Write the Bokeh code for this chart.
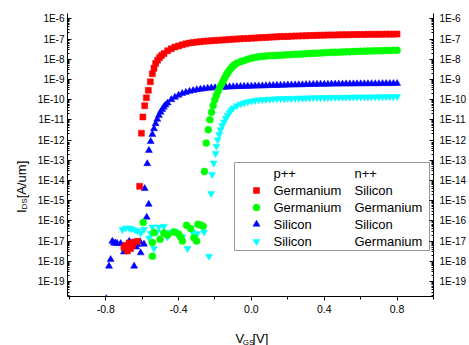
import math
from bokeh.plotting import figure
from bokeh.layouts import row, column
from bokeh.models import (Range1d, LogAxis, FixedTicker, CustomJSTickFormatter,
                          PrintfTickFormatter)
from bokeh.core.properties import value
from bokeh.embed import file_html
from bokeh.resources import INLINE

# ---------------- data (V_GS in volts, log10 of I_DS in A/um) ----------------
SWEEP_STEP = 0.02

# p++ Germanium / n++ Silicon  (red squares)
red_noise_v = [-0.700, -0.690, -0.681, -0.671, -0.663, -0.653, -0.645, -0.626]
red_noise_log = [-17.32, -17.21, -17.49, -17.09, -17.37, -17.21, -17.05, -17.01]
red_steep_v = [-0.614, -0.604, -0.596, -0.586, -0.577, -0.566, -0.555, -0.544,
               -0.535, -0.526, -0.515, -0.504, -0.493]
red_steep_log = [-14.29, -11.66, -10.86, -10.30, -9.91, -9.54, -9.12, -8.72,
                 -8.45, -8.21, -8.05, -7.92, -7.81]
red_flat_start = -0.48
red_flat_log = [-7.72, -7.58, -7.48, -7.40, -7.34, -7.29, -7.24, -7.20, -7.17, -7.15,
                -7.13, -7.11, -7.10, -7.09, -7.07, -7.06, -7.05, -7.04, -7.02, -7.01,
                -7.00, -6.99, -6.98, -6.97,
                -6.96, -6.95, -6.94, -6.93, -6.92, -6.91, -6.90, -6.89, -6.88, -6.875,
                -6.87, -6.86, -6.855, -6.85, -6.845, -6.84, -6.83, -6.825, -6.82, -6.815,
                -6.81, -6.805, -6.80, -6.80, -6.795, -6.79, -6.79, -6.785, -6.78, -6.78,
                -6.775, -6.775, -6.77, -6.77, -6.77, -6.765, -6.765, -6.76, -6.76, -6.76,
                -6.755]

# p++ Germanium / n++ Germanium  (green circles)
green_noise_v = [-0.594, -0.544, -0.535, -0.544, -0.502, -0.481, -0.460, -0.426, -0.400,
                 -0.389, -0.379, -0.356, -0.334, -0.316, -0.301, -0.294, -0.280, -0.265]
green_noise_log = [-16.08, -17.07, -16.58, -17.75, -16.91, -16.60, -16.70, -16.55, -16.65,
                   -16.80, -17.00, -16.22, -16.38, -16.83, -17.00, -16.17, -16.20, -16.27]
green_steep_v = [-0.258, -0.248, -0.237, -0.228, -0.219, -0.210, -0.201, -0.192, -0.183,
                 -0.174, -0.165, -0.156, -0.147, -0.138, -0.129, -0.120, -0.111, -0.102,
                 -0.093]
green_steep_log = [-13.55, -12.15, -11.49, -10.99, -10.62, -10.29, -10.00, -9.78, -9.58,
                   -9.40, -9.25, -9.09, -8.93, -8.78, -8.65, -8.53, -8.43, -8.35, -8.28]
green_flat_start = -0.08
green_flat_log = [-8.20, -8.12, -8.06, -8.00,
                  -7.95, -7.91, -7.88, -7.86, -7.84, -7.83, -7.82, -7.81, -7.80, -7.79,
                  -7.78, -7.77, -7.76, -7.75, -7.74, -7.73, -7.72, -7.71, -7.70, -7.69,
                  -7.68, -7.67, -7.66, -7.655, -7.65, -7.64, -7.635, -7.63, -7.62, -7.615,
                  -7.61, -7.60, -7.595, -7.59, -7.585, -7.58, -7.575, -7.57, -7.565, -7.56,
                  -7.555]

# p++ Silicon / n++ Silicon  (blue triangles)
blue_noise_v = [-0.797, -0.782, -0.773, -0.764, -0.755, -0.745, -0.737, -0.718, -0.700,
                -0.671, -0.644, -0.633, -0.626, -0.611, -0.608, -0.590, -0.575, -0.564]
blue_noise_log = [-19.85, -18.24, -17.91, -17.01, -17.10, -17.09, -17.12, -17.12, -17.54,
                  -17.01, -18.24, -17.29, -17.17, -17.04, -17.58, -17.15, -15.82, -15.18]
blue_steep_v = [-0.586, -0.572, -0.563, -0.553, -0.544, -0.535, -0.526, -0.517, -0.508,
                -0.499, -0.490, -0.481, -0.472]
blue_steep_log = [-14.40, -13.17, -12.51, -12.07, -11.72, -11.44, -11.19, -10.97, -10.78,
                  -10.62, -10.49, -10.37, -10.27]
blue_flat_start = -0.46
blue_flat_log = [-10.17, -10.00, -9.88, -9.78, -9.70, -9.64, -9.59, -9.55, -9.51, -9.48,
                 -9.46, -9.44, -9.42, -9.41, -9.40, -9.39, -9.38, -9.37, -9.36, -9.355,
                 -9.35, -9.345, -9.34,
                 -9.335, -9.33, -9.325, -9.32, -9.31, -9.305, -9.30, -9.295, -9.29, -9.285,
                 -9.28, -9.275, -9.27, -9.265, -9.26, -9.255, -9.25, -9.245, -9.24, -9.24,
                 -9.235, -9.235, -9.23, -9.23, -9.225, -9.225, -9.22, -9.22, -9.22, -9.215,
                 -9.215, -9.215, -9.21, -9.21, -9.21, -9.21, -9.205, -9.205, -9.205, -9.20,
                 -9.20]

# p++ Silicon / n++ Germanium  (cyan inverted triangles)
cyan_noise_v = [-0.708, -0.690, -0.671, -0.658, -0.640, -0.626, -0.608, -0.590, -0.562,
                -0.553, -0.544, -0.535, -0.519, -0.508, -0.481, -0.471, -0.462, -0.444,
                -0.420, -0.406, -0.379, -0.351, -0.324, -0.297, -0.260, -0.233]
cyan_noise_log = [-16.43, -16.35, -16.36, -16.40, -16.45, -16.50, -16.60, -16.42, -16.85,
                  -16.63, -16.30, -17.37, -16.55, -16.30, -16.27, -16.63, -16.80, -16.55,
                  -16.50, -16.63, -16.80, -17.37, -16.55, -16.63, -16.55, -17.75]
cyan_steep_v = [-0.221, -0.216, -0.207, -0.197, -0.192, -0.185, -0.177, -0.170, -0.161,
                -0.151, -0.141, -0.131, -0.121, -0.111]
cyan_steep_log = [-14.65, -13.70, -13.14, -12.67, -12.31, -11.98, -11.72, -11.49, -11.28,
                  -11.11, -10.94, -10.78, -10.63, -10.51]
cyan_flat_start = -0.10
cyan_flat_log = [-10.41, -10.30, -10.22, -10.16, -10.11,
                 -10.07, -10.04, -10.02, -10.00, -9.99, -9.98, -9.97, -9.96, -9.955, -9.95,
                 -9.945, -9.94, -9.935, -9.93, -9.925, -9.92, -9.915, -9.91, -9.91, -9.905,
                 -9.90, -9.90, -9.895, -9.89, -9.89, -9.885, -9.885, -9.88, -9.88, -9.875,
                 -9.875, -9.87, -9.87, -9.865, -9.865, -9.86, -9.86, -9.86, -9.855, -9.855,
                 -9.85]

legend_header = ["p++", "n++"]
legend_p = ["Germanium", "Germanium", "Silicon", "Silicon"]
legend_n = ["Silicon", "Germanium", "Silicon", "Germanium"]

y_tick_exps = list(range(-6, -20, -1))
x_major_ticks = [-0.8, -0.4, 0.0, 0.4, 0.8]
x_minor_ticks = [-1.0, -0.6, -0.2, 0.2, 0.6, 1.0]

# ---------------- layout (page pixels) ----------------
W, H = 469, 345
LEFT_STRIP = 30          # figure holding the y-axis title
BOTTOM_STRIP = 23        # figure holding the x-axis title
FRAME_L, FRAME_R, FRAME_T, FRAME_B = 67, 433, 13, 296
X0, X1 = -1.01, 1.0
Y_TOP, Y_BOT = -5.738, -19.741
FW, FH = FRAME_R - FRAME_L, FRAME_B - FRAME_T
FONT = "Liberation Sans"

MAIN_W = W - LEFT_STRIP
MAIN_H = H - BOTTOM_STRIP


def px_x(px):
    return X0 + (px - FRAME_L) * (X1 - X0) / FW


def px_y(py):
    return 10 ** (Y_TOP - (py - FRAME_T) * (Y_TOP - Y_BOT) / FH)


p = figure(width=MAIN_W, height=MAIN_H, x_range=Range1d(X0, X1),
           y_range=Range1d(10 ** Y_BOT, 10 ** Y_TOP), y_axis_type="log",
           output_backend="svg", toolbar_location=None,
           min_border_left=FRAME_L - LEFT_STRIP, min_border_right=W - FRAME_R,
           min_border_top=FRAME_T, min_border_bottom=MAIN_H - FRAME_B)
p.outline_line_color = None
p.xgrid.visible = False
p.ygrid.visible = False
p.background_fill_color = "white"
p.border_fill_color = "white"

major_y = [10.0 ** e for e in y_tick_exps]
minor_y = [k * 10.0 ** e for e in range(-20, -5) for k in range(2, 10)]
fmt_js = "return '1E' + Math.round(Math.log10(tick));"


def style_y(ax):
    ax.ticker = FixedTicker(ticks=major_y, minor_ticks=minor_y)
    ax.formatter = CustomJSTickFormatter(code=fmt_js)
    ax.major_label_text_font = FONT
    ax.major_label_text_font_size = "10px"
    ax.major_label_text_color = "black"
    ax.axis_line_color = "black"
    ax.major_tick_line_color = "black"
    ax.minor_tick_line_color = "black"
    ax.major_tick_in = 4
    ax.major_tick_out = 0
    ax.minor_tick_in = 2
    ax.minor_tick_out = 0


style_y(p.yaxis[0])
p.yaxis[0].major_label_standoff = 3
right = LogAxis()
style_y(right)
right.major_label_standoff = 6
p.add_layout(right, "right")

xa = p.xaxis[0]
xa.ticker = FixedTicker(ticks=x_major_ticks, minor_ticks=x_minor_ticks)
xa.formatter = PrintfTickFormatter(format="%.1f")
xa.major_label_text_font = FONT
xa.major_label_text_font_size = "10.5px"
xa.major_label_text_color = "black"
xa.axis_line_color = "black"
xa.major_tick_in = 0
xa.major_tick_out = 4
xa.minor_tick_in = 0
xa.minor_tick_out = 3
xa.major_label_standoff = 4


def build(noise_v, noise_log, steep_v, steep_log, flat_start, flat_log):
    v = list(noise_v) + list(steep_v) + [round(flat_start + SWEEP_STEP * i, 3)
                                         for i in range(len(flat_log))]
    lg = list(noise_log) + list(steep_log) + list(flat_log)
    return v, [10.0 ** a for a in lg]


series = {
    "red": build(red_noise_v, red_noise_log, red_steep_v, red_steep_log,
                 red_flat_start, red_flat_log),
    "green": build(green_noise_v, green_noise_log, green_steep_v, green_steep_log,
                   green_flat_start, green_flat_log),
    "blue": build(blue_noise_v, blue_noise_log, blue_steep_v, blue_steep_log,
                  blue_flat_start, blue_flat_log),
    "cyan": build(cyan_noise_v, cyan_noise_log, cyan_steep_v, cyan_steep_log,
                  cyan_flat_start, cyan_flat_log),
}
style = {
    "red": ("square", 6, "#ff0000"),
    "green": ("circle", 7, "#00ff00"),
    "blue": ("triangle", 7, "#0000ff"),
    "cyan": ("inverted_triangle", 7, "#00ffff"),
}

for name in ["cyan", "blue", "red", "green"]:
    v, i = series[name]
    mk, sz, col = style[name]
    p.scatter(v, i, marker=mk, size=sz, fill_color=col, line_color=col, line_width=0.5)

# ---------------- legend ----------------
p.quad(left=[px_x(234)], right=[px_x(429)], top=[px_y(162)], bottom=[px_y(250)],
       fill_color="white", line_color="#999999", line_width=1)

row_y = [190, 207, 223.7, 241]
p.text(x=[px_x(273), px_x(354)], y=[px_y(173)] * 2, text=legend_header,
       text_font=value(FONT), text_font_size="13px", text_baseline="middle",
       text_align="left", text_color="black")
p.text(x=[px_x(273)] * 4, y=[px_y(r) for r in row_y], text=legend_p,
       text_font=value(FONT), text_font_size="13px", text_baseline="middle",
       text_align="left", text_color="black")
p.text(x=[px_x(354)] * 4, y=[px_y(r) for r in row_y], text=legend_n,
       text_font=value(FONT), text_font_size="13px", text_baseline="middle",
       text_align="left", text_color="black")
for name, r in zip(["red", "green", "blue", "cyan"], row_y):
    mk, sz, col = style[name]
    p.scatter([px_x(256)], [px_y(r)], marker=mk, size=sz, fill_color=col,
              line_color=col, line_width=0.5)


# ---------------- axis-title strips (plain page-pixel frames) ----------------
def strip(w, h, x0, y0):
    f = figure(width=w, height=h, x_range=Range1d(x0, x0 + w),
               y_range=Range1d(y0 + h, y0), output_backend="svg",
               toolbar_location=None, x_axis_location=None, y_axis_location=None,
               min_border=0)
    f.outline_line_color = None
    f.xgrid.visible = False
    f.ygrid.visible = False
    f.background_fill_color = "white"
    f.border_fill_color = "white"
    return f


fy = strip(LEFT_STRIP, H, 0, 0)
fx = strip(MAIN_W, BOTTOM_STRIP, LEFT_STRIP, MAIN_H)


def txt(f, s, px, py, size, angle=0.0):
    f.text(x=[px], y=[py], text=[s], text_font=value(FONT), text_font_size=size,
           text_color="black", angle=angle, text_align="left",
           text_baseline="alphabetic")


txt(fx, "V", 231.5, 338, "13px")
txt(fx, "GS", 240.2, 341.5, "8px")
txt(fx, "[V]", 251.8, 338, "13px")

txt(fy, "I", 20.5, 212.5, "13px", math.pi / 2)
txt(fy, "DS", 23.5, 208.9, "8px", math.pi / 2)
txt(fy, "[A/um]", 20.5, 197.8, "13px", math.pi / 2)

layout = row(fy, column(p, fx, spacing=0), spacing=0)
open("out.html", "w").write(file_html(layout, INLINE))
